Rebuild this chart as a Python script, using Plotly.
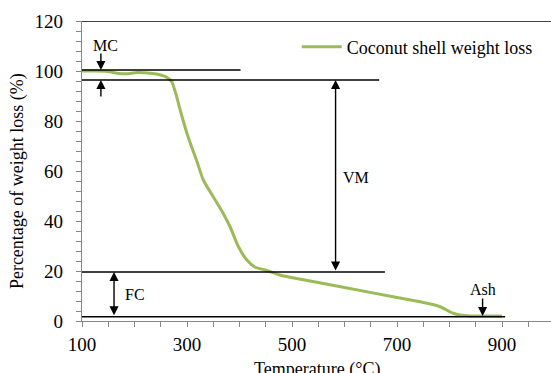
import plotly.graph_objects as go

# Data
temperature = [100, 130, 150, 170, 185, 205, 230, 250, 262, 271, 280, 287, 302, 318, 331, 350,
               369, 382, 398, 414, 430, 449, 477, 496, 600, 700, 744, 770, 782, 807, 820, 840, 870, 900]
weight = [100.0, 100.0, 99.8, 99.0, 98.9, 99.4, 99.1, 98.4, 97.4, 95.7, 90.0, 84.4, 73.7, 64.4, 56.4, 49.7,
          43.0, 37.7, 29.7, 24.4, 21.5, 20.4, 18.4, 17.5, 13.4, 9.4, 7.7, 6.5, 5.7, 3.1, 2.4, 2.0, 2.0, 2.0]

series_name = "Coconut shell weight loss"
x_title = "Temperature (°C)"
y_title = "Percentage of weight loss (%)"

# Reference levels (y value, x start, x end)
level_mc_top = (100.4, 100, 402)
level_mc_bottom = (96.4, 95, 666)
level_fc_top = (19.6, 100, 677)
level_ash = (1.7, 100, 906)

# Arrow annotations: (x, y_tail, y_head, both_ends)
arrows = [
    (136, 107.6, 100.4, False),
    (136, 89.2, 96.4, False),
    (583, 19.6, 96.4, True),
    (161, 1.7, 19.6, True),
    (863, 9.6, 2.0, False),
    (863, -7.6, -0.6, False),
]
labels = [("MC", 144, 110.3), ("VM", 622, 57.6), ("FC", 200, 10.8), ("Ash", 864, 12.7)]

FONT = "Liberation Serif"
GREEN = "#9BBB59"
AXIS_GREY = "#868686"

fig = go.Figure()
fig.add_trace(go.Scatter(x=temperature, y=weight, mode="lines", name=series_name,
                         line=dict(color=GREEN, width=3, shape="spline", smoothing=0.6)))

shapes = []
for (yv, x0, x1) in [level_mc_top, level_mc_bottom, level_fc_top, level_ash]:
    shapes.append(dict(type="line", xref="x", yref="y", x0=x0, x1=x1, y0=yv, y1=yv,
                       line=dict(color="black", width=1.3), layer="above"))
# top border line at 120
shapes.append(dict(type="line", xref="paper", yref="y", x0=0, x1=1, y0=120, y1=120,
                   line=dict(color="black", width=1.3)))

annotations = []
for (xv, yt, yh, both) in arrows:
    annotations.append(dict(x=xv, y=yh, ax=xv, ay=yt, xref="x", yref="y", axref="x", ayref="y",
                            text="", showarrow=True, arrowhead=2, arrowsize=1.3, arrowwidth=1.4,
                            arrowcolor="black", arrowside="end+start" if both else "end",
                            startarrowhead=2, startarrowsize=1.3))
for (t, xv, yv) in labels:
    annotations.append(dict(x=xv, y=yv, xref="x", yref="y", text=t, showarrow=False,
                            font=dict(family=FONT, size=16, color="black")))
annotations.append(dict(x=0.5, y=-0.16, xref="paper", yref="paper", text=x_title, showarrow=False,
                        xanchor="center", yanchor="middle", font=dict(family=FONT, size=18, color="black")))
annotations.append(dict(x=-0.136, y=0.467, xref="paper", yref="paper", text=y_title, showarrow=False,
                        textangle=-90, xanchor="center", yanchor="middle",
                        font=dict(family=FONT, size=18, color="black")))

fig.update_layout(
    width=551, height=373,
    margin=dict(l=82, r=0, t=21, b=52),
    paper_bgcolor="white", plot_bgcolor="white",
    font=dict(family=FONT, size=18, color="black"),
    showlegend=True,
    legend=dict(x=0.458, y=0.913, xanchor="left", yanchor="middle", bgcolor="rgba(0,0,0,0)",
                font=dict(family=FONT, size=18, color="black"), itemwidth=40),
    shapes=shapes, annotations=annotations,
)
fig.update_xaxes(range=[100, 993.3], tickmode="linear", tick0=100, dtick=200,
                 showgrid=False, zeroline=False, showline=True, linecolor=AXIS_GREY, linewidth=1.3,
                 ticks="outside", ticklen=5, tickcolor=AXIS_GREY, ticklabelstandoff=1,
                 minor=dict(dtick=50, tick0=100, ticks="outside", ticklen=5, tickcolor=AXIS_GREY, showgrid=False),
                 tickfont=dict(family=FONT, size=19, color="black"))
fig.update_yaxes(range=[0, 120], tickmode="linear", tick0=0, dtick=20,
                 showgrid=False, zeroline=False, showline=True, linecolor=AXIS_GREY, linewidth=1.3,
                 ticks="outside", ticklen=5, tickcolor=AXIS_GREY, ticklabelstandoff=9,
                 minor=dict(dtick=4, tick0=0, ticks="outside", ticklen=5, tickcolor=AXIS_GREY, showgrid=False),
                 tickfont=dict(family=FONT, size=19, color="black"))

fig.write_html("out.html")
